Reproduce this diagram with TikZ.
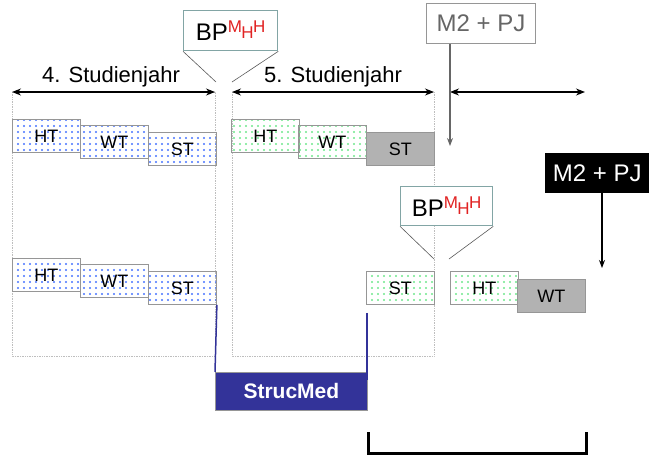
\documentclass[tikz,border=0pt]{standalone}
\usepackage{fontspec}
\setmainfont{Liberation Sans}
\usetikzlibrary{arrows.meta,patterns.meta}
\definecolor{dotblue}{RGB}{70,115,255}
\definecolor{dotgreen}{RGB}{110,230,140}
\definecolor{boxgray}{RGB}{150,150,150}
\definecolor{stgray}{RGB}{178,178,178}
\definecolor{bpframe}{RGB}{130,165,165}
\definecolor{bpred}{RGB}{225,35,35}
\definecolor{strucblue}{RGB}{51,51,153}
\definecolor{guide}{RGB}{190,190,190}
\tikzset{
  sem/.style={draw=boxgray, line width=0.9pt, minimum width=68pt, minimum height=33pt, inner sep=0pt, anchor=north west, font=\fontsize{18}{18}\selectfont},
  bluesem/.style={sem, fill=white, pattern={Dots[distance=6pt, radius=1.1pt]}, pattern color=dotblue},
  greensem/.style={sem, fill=white, pattern={Dots[distance=6pt, radius=1.1pt]}, pattern color=dotgreen},
  graysem/.style={sem, fill=stgray},
  bpbox/.style={draw=bpframe, line width=1.3pt, fill=white, inner sep=0pt, anchor=north west, font=\fontsize{24}{24}\selectfont},
  bpline/.style={draw=black!65, line width=0.6pt},
  span/.style={line width=1.2pt, {Stealth[length=9pt,width=7pt]}-{Stealth[length=9pt,width=7pt]}},
  yearlbl/.style={font=\fontsize{22}{22}\selectfont, inner sep=0pt},
  guidebox/.style={draw=guide, line width=0.7pt, densely dotted},
}
\newcommand{\bptext}{BP\textcolor{bpred}{\fontsize{17}{17}\selectfont\raisebox{8pt}{M}\kern-0.5pt\raisebox{2pt}{H}\kern-0.5pt\raisebox{8pt}{H}}}
\begin{document}
\begin{tikzpicture}[x=1pt,y=-1pt]
\useasboundingbox (0,0) rectangle (649,456);
% guide frames
\draw[guidebox] (12,92) rectangle (215,356);
\draw[guidebox] (232,92) rectangle (434,356);
% spans
\coordinate (a1) at (12,92); \coordinate (a2) at (215,92);
\coordinate (b1) at (232,92); \coordinate (b2) at (434,92);
\coordinate (c1) at (450,92); \coordinate (c2) at (585,92);
\draw[span] (a1) -- (a2);
\draw[span] (b1) -- (b2);
\draw[span] (c1) -- (c2);
\node[yearlbl] (y4) at (111,77) {4. Studienjahr};
\node[yearlbl] (y5) at (333,77) {5. Studienjahr};
% BP boxes
\node[bpbox, minimum width=94pt, minimum height=40pt] (bp1) at (183,10) {\bptext};
\coordinate (bp1l) at (216,82); \coordinate (bp1r) at (232,82);
\draw[bpline] (bp1.south west) -- (bp1l);
\draw[bpline] (bp1.south east) -- (bp1r);
\node[bpbox, minimum width=92pt, minimum height=39pt] (bp2) at (400,186) {\bptext};
\coordinate (bp2l) at (434,259); \coordinate (bp2r) at (449,259);
\draw[bpline] (bp2.south west) -- (bp2l);
\draw[bpline] (bp2.south east) -- (bp2r);
% M2 + PJ boxes
\node[draw=boxgray, line width=1pt, fill=white, text=black!60, minimum width=109pt, minimum height=40pt, inner sep=0pt, anchor=north west, font=\fontsize{24}{24}\selectfont] (m2a) at (426,3) {M2 + PJ};
\coordinate (m2at) at (450,146);
\draw[draw=black!60, line width=1.2pt, -{Stealth[length=8pt,width=6pt]}] (m2a.south west -| m2at) -- (m2at);
\node[fill=black, text=white, minimum width=104pt, minimum height=40pt, inner sep=0pt, anchor=north west, font=\fontsize{24}{24}\selectfont] (m2b) at (545,153) {M2 + PJ};
\coordinate (m2bt) at (602,268);
\draw[line width=1.2pt, -{Stealth[length=8pt,width=6pt]}] (m2b.south west -| m2bt) -- (m2bt);
% row 1 left
\node[bluesem] (r1ht) at (12,119) {HT};
\node[bluesem] (r1wt) at (80,125) {WT};
\node[bluesem] (r1st) at (148,132) {ST};
% row 1 right
\node[greensem] (r1ht2) at (231,119) {HT};
\node[greensem] (r1wt2) at (298,125) {WT};
\node[graysem] (r1st2) at (366,132) {ST};
% row 2 left
\node[bluesem] (r2ht) at (12,258) {HT};
\node[bluesem] (r2wt) at (80,264) {WT};
\node[bluesem] (r2st) at (148,271) {ST};
% row 2 right
\node[greensem] (r2st2) at (366,271) {ST};
\node[greensem] (r2ht2) at (450,271) {HT};
\node[graysem] (r2wt2) at (517,279) {WT};
% StrucMed
\node[fill=strucblue, draw=boxgray, line width=0.8pt, text=white, minimum width=152pt, minimum height=38pt, inner sep=0pt, anchor=north west, font=\fontsize{21}{21}\bfseries\selectfont] (sm) at (215,372) {StrucMed};
\coordinate (smr) at (367,380);
\draw[strucblue, line width=1.5pt] (r2st.south east) -- (sm.north west);
\draw[strucblue, line width=1.5pt] (r2st2.south west) ++(1,8) coordinate (smt) -- (smr);
% bracket
\coordinate (k1) at (368,432); \coordinate (k2) at (368,453);
\coordinate (k3) at (586,453); \coordinate (k4) at (586,432);
\draw[line width=3pt] (k1) -- (k2) -- (k3) -- (k4);
\end{tikzpicture}
\end{document}
